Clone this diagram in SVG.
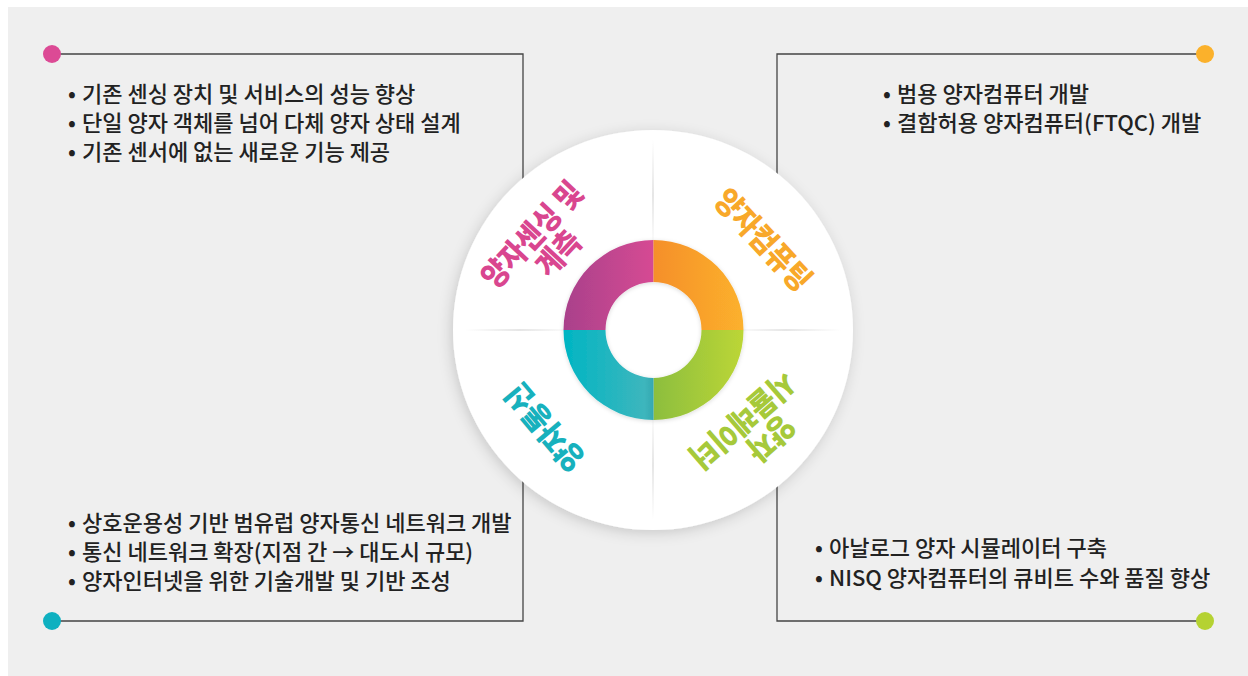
<svg xmlns="http://www.w3.org/2000/svg" width="1248" height="676" viewBox="0 0 1248 676">
<defs>
<style>
.body{font-family:"Noto Sans CJK KR","Noto Sans",sans-serif;font-size:22px;font-weight:500;fill:#222;}
.lbl{font-family:"Noto Sans CJK KR","Noto Sans",sans-serif;font-size:31px;font-weight:900;text-anchor:middle;letter-spacing:0px;}
.conn{fill:none;stroke:#444;stroke-width:1.3;}
.crease{stroke-width:2;}
</style>
<filter id="sh" x="-20%" y="-20%" width="140%" height="140%">
<feDropShadow dx="-2" dy="3" stdDeviation="7" flood-color="#000" flood-opacity="0.16"/>
</filter>
<filter id="sh2" x="-20%" y="-20%" width="140%" height="140%">
<feDropShadow dx="0" dy="1" stdDeviation="2" flood-color="#000" flood-opacity="0.15"/>
</filter>
<linearGradient id="gTL" x1="0" y1="0" x2="1" y2="0"><stop offset="0" stop-color="#a9418b"/><stop offset="1" stop-color="#d64a93"/></linearGradient>
<linearGradient id="gTR" x1="0" y1="0" x2="1" y2="0"><stop offset="0" stop-color="#f58f2a"/><stop offset="1" stop-color="#fcb12d"/></linearGradient>
<linearGradient id="gBR" x1="0" y1="0" x2="1" y2="0"><stop offset="0" stop-color="#8cbe3e"/><stop offset="1" stop-color="#bcd636"/></linearGradient>
<linearGradient id="gBL" x1="0" y1="0" x2="1" y2="0"><stop offset="0" stop-color="#00b5c3"/><stop offset="0.9" stop-color="#3db6bd"/><stop offset="1" stop-color="#35a8b0"/></linearGradient>
<linearGradient id="cv" x1="0" y1="0" x2="0" y2="1"><stop offset="0" stop-color="#e6e6e6" stop-opacity="0"/><stop offset="0.5" stop-color="#e6e6e6"/><stop offset="1" stop-color="#e6e6e6" stop-opacity="0"/></linearGradient>
<linearGradient id="ch" x1="0" y1="0" x2="1" y2="0"><stop offset="0" stop-color="#e6e6e6" stop-opacity="0"/><stop offset="0.5" stop-color="#e6e6e6"/><stop offset="1" stop-color="#e6e6e6" stop-opacity="0"/></linearGradient>
</defs>

<rect id="page" x="0" y="0" width="1248" height="676" fill="#ffffff"/>
<rect id="panel" x="8" y="7" width="1240" height="669" fill="#efefef"/>

<g id="connectors">
<polyline class="conn" points="52,54 523,54 523,200"/>
<polyline class="conn" points="1205,54 777,54 777,200"/>
<polyline class="conn" points="52,621 523,621 523,450"/>
<polyline class="conn" points="1205,621 777,621 777,450"/>
</g>

<g id="hub">
<circle cx="653" cy="330" r="200" fill="#ffffff" filter="url(#sh)"/>
<rect class="crease" x="652" y="140" width="2" height="110" fill="url(#cv)"/>
<rect class="crease" x="652" y="410" width="2" height="110" fill="url(#cv)"/>
<rect class="crease" x="465" y="329" width="110" height="2" fill="url(#ch)"/>
<rect class="crease" x="731" y="329" width="110" height="2" fill="url(#ch)"/>
<g filter="url(#sh2)">
<path d="M563.5,330 A90,90 0 0 1 653.5,240 L653.5,282 A48,48 0 0 0 605.5,330 Z" fill="url(#gTL)"/>
<path d="M653.5,240 A90,90 0 0 1 743.5,330 L701.5,330 A48,48 0 0 0 653.5,282 Z" fill="url(#gTR)"/>
<path d="M743.5,330 A90,90 0 0 1 653.5,420 L653.5,378 A48,48 0 0 0 701.5,330 Z" fill="url(#gBR)"/>
<path d="M653.5,420 A90,90 0 0 1 563.5,330 L605.5,330 A48,48 0 0 0 653.5,378 Z" fill="url(#gBL)"/>
</g>
</g>

<g id="label-sensing" transform="translate(545,244.5) rotate(-47) scale(0.88,1)">
<text class="lbl" x="-2" y="-5" fill="#d9468f">양자센싱 및</text>
<text class="lbl" x="3" y="27" fill="#d9468f">계측</text>
</g>
<g id="label-computing" transform="translate(763,240) rotate(47) scale(0.88,1)">
<text class="lbl" x="0" y="11" fill="#f8a82a">양자컴퓨팅</text>
</g>
<g id="label-comm" transform="translate(545,427) rotate(-130) scale(0.9,1)">
<text class="lbl" x="0" y="11" fill="#17b1bd">양자통신</text>
</g>
<g id="label-sim" transform="translate(756.5,429) rotate(139) scale(0.9,1)">
<text class="lbl" x="-5" y="-5" fill="#a6c93a">양자</text>
<text class="lbl" x="5" y="27" fill="#a6c93a">시뮬레이터</text>
</g>

<g id="dot-tl"><circle cx="52" cy="54" r="9" fill="#dc4a95"/></g>
<g id="dot-tr"><circle cx="1205" cy="54" r="9" fill="#fbb12b"/></g>
<g id="dot-bl"><circle cx="52" cy="621" r="9" fill="#0fb0c0"/></g>
<g id="dot-br"><circle cx="1205" cy="621" r="9" fill="#b5d232"/></g>

<g id="text-sensing" class="body">
<text x="68" y="102">•</text><text x="82" y="102">기존 센싱 장치 및 서비스의 성능 향상</text>
<text x="68" y="131">•</text><text x="82" y="131">단일 양자 객체를 넘어 다체 양자 상태 설계</text>
<text x="68" y="160">•</text><text x="82" y="160">기존 센서에 없는 새로운 기능 제공</text>
</g>
<g id="text-computing" class="body">
<text x="883" y="102">•</text><text x="897" y="102">범용 양자컴퓨터 개발</text>
<text x="883" y="131">•</text><text x="897" y="131">결함허용 양자컴퓨터(FTQC) 개발</text>
</g>
<g id="text-comm" class="body">
<text x="68" y="531">•</text><text x="82" y="531">상호운용성 기반 범유럽 양자통신 네트워크 개발</text>
<text x="68" y="560">•</text><text x="82" y="560">통신 네트워크 확장(지점 간 → 대도시 규모)</text>
<text x="68" y="589">•</text><text x="82" y="589">양자인터넷을 위한 기술개발 및 기반 조성</text>
</g>
<g id="text-sim" class="body">
<text x="815" y="556">•</text><text x="829" y="556">아날로그 양자 시뮬레이터 구축</text>
<text x="815" y="586">•</text><text x="829" y="586">NISQ 양자컴퓨터의 큐비트 수와 품질 향상</text>
</g>
</svg>
